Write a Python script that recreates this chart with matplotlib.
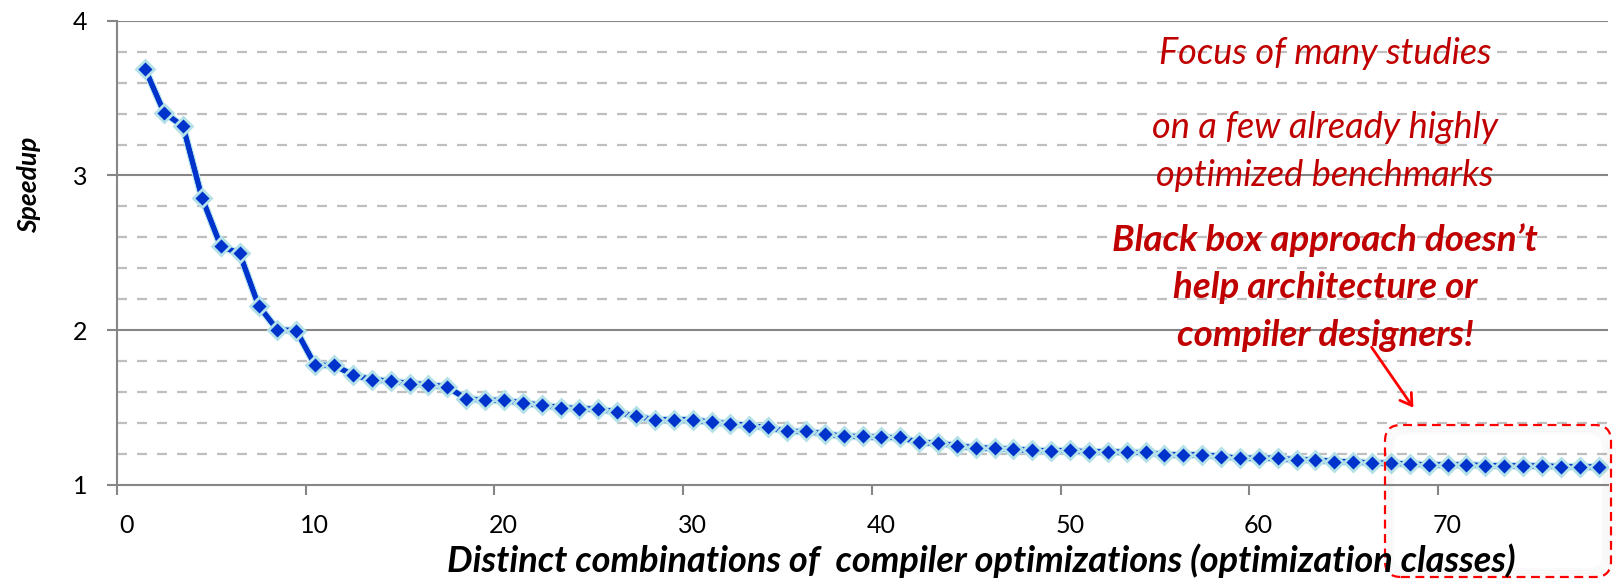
import numpy as np
import matplotlib
matplotlib.use("Agg")
import matplotlib.pyplot as plt
from matplotlib.patches import FancyBboxPatch, FancyArrowPatch
from matplotlib.transforms import ScaledTranslation, IdentityTransform
import matplotlib.patheffects as pe

# ── Data ───────────────────────────────────────────────────────────────────────
combination = np.arange(1, 79) + 0.5
speedup = [
    3.686, 3.405, 3.318, 2.857, 2.543, 2.496, 2.159, 2.002, 1.998, 1.773,
    1.773, 1.712, 1.680, 1.672, 1.655, 1.648, 1.633, 1.558, 1.547, 1.547,
    1.530, 1.515, 1.500, 1.493, 1.490, 1.471, 1.443, 1.422, 1.422, 1.422,
    1.404, 1.396, 1.383, 1.372, 1.346, 1.346, 1.331, 1.314, 1.314, 1.307,
    1.307, 1.275, 1.270, 1.255, 1.238, 1.238, 1.231, 1.223, 1.222, 1.223,
    1.213, 1.216, 1.210, 1.210, 1.195, 1.195, 1.195, 1.184, 1.173, 1.173,
    1.173, 1.162, 1.162, 1.151, 1.151, 1.141, 1.141, 1.136, 1.130, 1.130,
    1.130, 1.125, 1.125, 1.123, 1.123, 1.119, 1.119, 1.115,
]
x_ticks = [0, 10, 20, 30, 40, 50, 60, 70]
y_ticks = [1, 2, 3, 4]

W, H = 1613, 579
FONT = ["Lato", "DejaVu Sans"]
RED = "#C00000"
GRID = "#868686"
MINOR = "#BFBFBF"

plt.rcParams["font.family"] = FONT

fig = plt.figure(figsize=(W / 100, H / 100), dpi=100)
ax = fig.add_axes([117 / W, 1 - 485 / H, (1608 - 117) / W, (485 - 20.7) / H])

# minor dashed gridlines every 0.2, solid major gridlines
minor = [v for v in np.arange(1.2, 4.0, 0.2) if abs(v - round(v)) > 1e-6]
for v in minor:
    ax.axhline(v, color=MINOR, lw=1.6, ls=(0, (4.5, 4.5)), zorder=1)
for v in y_ticks[1:]:
    ax.axhline(v, color=GRID, lw=1.5, zorder=1)

ax.plot(combination, speedup, color="#0033CC", lw=3.6, zorder=3,
        path_effects=[pe.withStroke(linewidth=5.5, foreground="#B7E3EA"), pe.Normal()])
ax.plot(combination, speedup, ls="none", marker="D", ms=9, mfc="#0033CC",
        mec="#B4E1E8", mew=2, zorder=4)

ax.set_xlim(0, 79)
ax.set_ylim(1, 4)
ax.set_xticks(x_ticks)
ax.set_yticks(y_ticks)
for s in ["top", "right"]:
    ax.spines[s].set_visible(False)
for s in ["left", "bottom"]:
    ax.spines[s].set_color(GRID)
    ax.spines[s].set_linewidth(1.5)
ax.tick_params(axis="both", direction="out", length=7.2, width=1.5, color=GRID,
               labelsize=18, labelcolor="black")
ax.tick_params(axis="y", pad=14)
ax.tick_params(axis="x", pad=14)
for lab in ax.get_xticklabels():
    lab.set_transform(lab.get_transform() + ScaledTranslation(9 / 100, 0, fig.dpi_scale_trans))

# axis titles
fig.text(29 / W, 1 - 185 / H, "Speedup", rotation=90, ha="center", va="center",
         fontsize=19, fontweight="bold", fontstyle="italic")
fig.text(981 / W, 1 - 561 / H,
         "Distinct combinations of  compiler optimizations (optimization classes)",
         ha="center", va="center", fontsize=26, fontweight="bold", fontstyle="italic")

# annotations
for txt, yc in [("Focus of many studies", 53),
                ("on a few already highly", 127),
                ("optimized benchmarks", 175)]:
    fig.text(1325 / W, 1 - yc / H, txt, ha="center", va="center",
             color=RED, fontsize=26, fontstyle="italic")
for txt, yc in [("Black box approach doesn\u2019t", 240),
                ("help architecture or", 287),
                ("compiler designers!", 335)]:
    fig.text(1325 / W, 1 - yc / H, txt, ha="center", va="center", color=RED,
             fontsize=26.5, fontweight="bold", fontstyle="italic")

# arrow and dashed rounded box (pixel coordinates)
arrow = FancyArrowPatch((1370, H - 345), (1415, H - 410), transform=IdentityTransform(),
                        arrowstyle="->,head_length=8,head_width=5", color="#FF0000",
                        lw=2, mutation_scale=1)
fig.add_artist(arrow)
for k in range(1, 4):
    glow = FancyBboxPatch((1385 + 2.5 * k, H - 577 + 2.5 * k), 226 - 5 * k, 152 - 5 * k,
                          boxstyle="round,pad=0,rounding_size=14", transform=IdentityTransform(),
                          fill=False, ec="gray", lw=2.5, alpha=0.04)
    fig.add_artist(glow)
box = FancyBboxPatch((1385, H - 577), 226, 152, boxstyle="round,pad=0,rounding_size=16",
                     transform=IdentityTransform(), fill=False, ec="#FF0000", lw=1.6,
                     ls=(0, (4, 2.5)))
fig.add_artist(box)

fig.savefig("out.png", dpi=100)
